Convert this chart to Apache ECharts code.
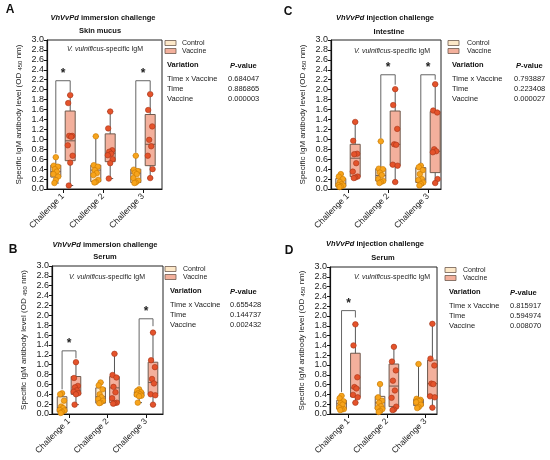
<!DOCTYPE html>
<html>
<head>
<meta charset="utf-8">
<script src="https://cdn.jsdelivr.net/npm/echarts@6/dist/echarts.min.js"></script>
<style>
  html, body { margin: 0; padding: 0; background: #fff; }
  #chart { width: 550px; height: 460px; }
</style>
</head>
<body>
<div id="chart"></div>
<script>
var categories = ['Challenge 1', 'Challenge 2', 'Challenge 3'];
var variations = ['Time x Vaccine', 'Time', 'Vaccine'];

// box stats per challenge: [min, q1, median, q3, max]
// A - immersion, skin mucus
var skinCtrlBox = [[0.12, 0.24, 0.35, 0.48, 0.64], [0.13, 0.15, 0.38, 0.48, 1.06], [0.12, 0.13, 0.32, 0.40, 0.67]];
var skinVacBox = [[0.07, 0.57, 0.97, 1.57, 1.89], [0.21, 0.55, 0.72, 1.11, 1.56], [0.22, 0.47, 0.90, 1.50, 1.91]];
var skinCtrlPts = [[0.64, 0.47, 0.45, 0.40, 0.35, 0.30, 0.25, 0.18, 0.12], [1.06, 0.48, 0.45, 0.38, 0.32, 0.28, 0.18, 0.14, 0.13], [0.67, 0.39, 0.36, 0.33, 0.30, 0.22, 0.17, 0.13, 0.12]];
var skinVacPts = [[1.89, 1.73, 1.07, 1.07, 1.05, 0.88, 0.67, 0.53, 0.07], [1.56, 1.22, 0.78, 0.75, 0.71, 0.68, 0.60, 0.52, 0.21], [1.91, 1.59, 1.26, 0.99, 0.86, 0.67, 0.40, 0.22]];
var skinPvals = ['0.684047', '0.886865', '0.000003'];
var skinSig = [[1, 2.18, 0.72, 1.95], [3, 2.18, 0.73, 1.96]]; // [challenge, top, left leg end, right leg end]

// B - immersion, serum
var serImmCtrlBox = [[0.02, 0.04, 0.13, 0.35, 0.42], [0.22, 0.22, 0.35, 0.53, 0.64], [0.23, 0.36, 0.40, 0.45, 0.50]];
var serImmVacBox = [[0.19, 0.40, 0.47, 0.76, 1.05], [0.21, 0.23, 0.53, 0.76, 1.22], [0.19, 0.40, 0.64, 1.05, 1.65]];
var serImmCtrlPts = [[0.42, 0.40, 0.27, 0.15, 0.12, 0.08, 0.07, 0.04, 0.02], [0.64, 0.58, 0.50, 0.40, 0.34, 0.30, 0.27, 0.23, 0.22], [0.50, 0.47, 0.44, 0.42, 0.40, 0.39, 0.37, 0.36, 0.23]];
var serImmVacPts = [[1.05, 0.73, 0.57, 0.54, 0.48, 0.45, 0.42, 0.40, 0.19], [1.22, 0.79, 0.74, 0.55, 0.44, 0.32, 0.23, 0.22, 0.21], [1.65, 1.09, 0.95, 0.71, 0.62, 0.40, 0.38, 0.19]];
var serImmPvals = ['0.655428', '0.144737', '0.002432'];
var serImmSig = [[1, 1.28, 0.50, 1.13], [3, 1.93, 0.58, 1.78]];

// C - injection, intestine
var intCtrlBox = [[0.04, 0.05, 0.11, 0.21, 0.30], [0.12, 0.16, 0.27, 0.41, 0.96], [0.07, 0.13, 0.20, 0.43, 0.47]];
var intVacBox = [[0.22, 0.25, 0.62, 0.90, 1.35], [0.14, 0.47, 0.90, 1.57, 2.01], [0.12, 0.33, 0.76, 1.56, 2.11]];
var intCtrlPts = [[0.30, 0.25, 0.20, 0.14, 0.10, 0.08, 0.07, 0.05, 0.04], [0.96, 0.41, 0.40, 0.33, 0.28, 0.20, 0.16, 0.14, 0.12], [0.47, 0.44, 0.38, 0.30, 0.20, 0.18, 0.13, 0.10, 0.07]];
var intVacPts = [[1.35, 0.97, 0.71, 0.70, 0.52, 0.35, 0.25, 0.23, 0.22], [2.01, 1.69, 1.21, 0.90, 0.89, 0.49, 0.47, 0.14], [2.11, 1.58, 1.54, 0.80, 0.76, 0.74, 0.20, 0.12]];
var intPvals = ['0.793887', '0.223408', '0.000027'];
var intSig = [[2, 2.30, 1.02, 2.10], [3, 2.30, 0.52, 2.20]];

// D - injection, serum
var serInjCtrlBox = [[0.08, 0.10, 0.21, 0.28, 0.37], [0.04, 0.10, 0.23, 0.36, 0.61], [0.12, 0.17, 0.24, 0.30, 1.02]];
var serInjVacBox = [[0.23, 0.35, 0.53, 1.24, 1.83], [0.08, 0.15, 0.57, 1.02, 1.37], [0.13, 0.35, 0.62, 1.10, 1.84]];
var serInjCtrlPts = [[0.37, 0.32, 0.26, 0.22, 0.19, 0.13, 0.10, 0.09, 0.08], [0.61, 0.34, 0.27, 0.23, 0.16, 0.12, 0.10, 0.06, 0.04], [1.02, 0.31, 0.29, 0.27, 0.26, 0.24, 0.19, 0.14, 0.12]];
var serInjVacPts = [[1.83, 1.40, 0.75, 0.55, 0.52, 0.39, 0.34, 0.23], [1.37, 1.07, 0.89, 0.68, 0.48, 0.33, 0.15, 0.09, 0.08], [1.84, 1.13, 0.99, 0.62, 0.61, 0.36, 0.34, 0.13]];
var serInjPvals = ['0.815917', '0.594974', '0.008070'];
var serInjSig = [[1, 2.11, 0.45, 1.97]];

var FONT = '"Liberation Sans", Arial, sans-serif';
var ctrlFill = '#fde8c8', vacFill = '#f3b09c';
var ctrlDot = '#f7a41c', vacDot = '#e4532b';
var boxEdge = '#6e5a4e';
var OFF = 0.18, BOXW = 0.25;
var jitter = [0, -0.05, 0.05, -0.025, 0.025, -0.06, 0.06, 0, -0.035];

var panels = [
  { letter: 'A', route: 'immersion', tissue: 'Skin mucus', cb: skinCtrlBox, vb: skinVacBox, cp: skinCtrlPts, vp: skinVacPts, pv: skinPvals, sig: skinSig,
    g: { left: 47, top: 40, width: 115, height: 149, min: 0.6, max: 3.475 },
    letterPos: [10, 10], title: [103, 18], sub: [100, 31], inner: [105, 49], leg: [165, 43, 182], tab: [167, 65, 230, 228] },
  { letter: 'C', route: 'injection', tissue: 'Intestine', cb: intCtrlBox, vb: intVacBox, cp: intCtrlPts, vp: intVacPts, pv: intPvals, sig: intSig,
    g: { left: 331, top: 40, width: 110, height: 149, min: 0.575, max: 3.325 },
    letterPos: [288, 12], title: [385, 18], sub: [389, 32], inner: [392, 51], leg: [448, 43, 467], tab: [452, 65, 516, 514] },
  { letter: 'B', route: 'immersion', tissue: 'Serum', cb: serImmCtrlBox, vb: serImmVacBox, cp: serImmCtrlPts, vp: serImmVacPts, pv: serImmPvals, sig: serImmSig,
    g: { left: 52, top: 266, width: 111, height: 148, min: 0.558, max: 3.44 },
    letterPos: [13, 250], title: [105, 245], sub: [105, 257], inner: [107, 277], leg: [165, 269, 183], tab: [170, 291, 230, 230] },
  { letter: 'D', route: 'injection', tissue: 'Serum', cb: serInjCtrlBox, vb: serInjVacBox, cp: serInjCtrlPts, vp: serInjVacPts, pv: serInjPvals, sig: serInjSig,
    g: { left: 330, top: 267, width: 107, height: 147, min: 0.52, max: 3.30 },
    letterPos: [289, 251], title: [375, 244], sub: [383, 258], inner: [392, 277], leg: [445, 270, 463], tab: [449, 292, 510, 510] }
];

function boxRenderer(fill) {
  return function (params, api) {
    var x = api.value(0);
    var lo = api.coord([x, api.value(1)]), q1 = api.coord([x, api.value(2)]);
    var md = api.coord([x, api.value(3)]), q3 = api.coord([x, api.value(4)]);
    var hi = api.coord([x, api.value(5)]);
    var xl = api.coord([x - BOXW / 2, 0])[0], xr = api.coord([x + BOXW / 2, 0])[0];
    var w = xr - xl;
    var cx = lo[0], cap = w * 0.3;
    return { type: 'group', children: [
      { type: 'line', shape: { x1: cx, y1: hi[1], x2: cx, y2: lo[1] }, style: { stroke: '#555', lineWidth: 1 } },
      { type: 'line', shape: { x1: cx - cap, y1: hi[1], x2: cx + cap, y2: hi[1] }, style: { stroke: '#555', lineWidth: 1 } },
      { type: 'line', shape: { x1: cx - cap, y1: lo[1], x2: cx + cap, y2: lo[1] }, style: { stroke: '#555', lineWidth: 1 } },
      { type: 'rect', shape: { x: xl, y: q3[1], width: w, height: q1[1] - q3[1] }, style: { fill: fill, stroke: boxEdge, lineWidth: 1 } },
      { type: 'line', shape: { x1: xl, y1: md[1], x2: xr, y2: md[1] }, style: { stroke: boxEdge, lineWidth: 1 } }
    ] };
  };
}

function sigRenderer(params, api) {
  var xl = api.value(0), xr = api.value(1);
  var a = api.coord([xl, api.value(3)]), b = api.coord([xl, api.value(2)]);
  var c = api.coord([xr, api.value(2)]), d = api.coord([xr, api.value(4)]);
  return { type: 'group', children: [
    { type: 'polyline', shape: { points: [a, b, c, d] }, style: { stroke: '#666', lineWidth: 1, fill: null } },
    { type: 'text', x: (b[0] + c[0]) / 2, y: b[1] - 1, style: { text: '*', fontSize: 12, fontWeight: 'bold', fill: '#222', align: 'center', verticalAlign: 'bottom', fontFamily: FONT } }
  ] };
}

function boxData(stats, off) {
  return stats.map(function (s, i) { return [i + 1 + off, s[0], s[1], s[2], s[3], s[4]]; });
}
function ptData(pts, off) {
  var out = [];
  pts.forEach(function (list, i) {
    list.forEach(function (v, j) { out.push([i + 1 + off + jitter[j % jitter.length], v]); });
  });
  return out;
}

var grids = [], xAxes = [], yAxes = [], series = [], graphics = [];

panels.forEach(function (p, k) {
  grids.push({ left: p.g.left, top: p.g.top, width: p.g.width, height: p.g.height, show: true, borderColor: '#222', borderWidth: 1, backgroundColor: 'transparent', outerBoundsMode: 'none' });
  xAxes.push({
    gridIndex: k, type: 'value', min: p.g.min, max: p.g.max, splitLine: { show: false },
    axisLine: { lineStyle: { color: '#111', width: 1.2 } },
    axisTick: { customValues: [1, 2, 3], length: 4, lineStyle: { color: '#111' } },
    axisLabel: { customValues: [1, 2, 3], rotate: 45, fontSize: 8.5, color: '#222', fontFamily: FONT, margin: 6,
      formatter: function (v) { return categories[Math.round(v) - 1]; } }
  });
  yAxes.push({
    gridIndex: k, type: 'value', min: 0, max: 3, interval: 0.2, splitLine: { show: false },
    axisLine: { show: true, lineStyle: { color: '#111', width: 1.2 } },
    axisTick: { show: true, length: 3, lineStyle: { color: '#111' } },
    axisLabel: { fontSize: 9, color: '#222', fontFamily: FONT, margin: 3, formatter: function (v) { return v.toFixed(1); } },
    name: 'Specific IgM antibody level (OD {s|450} nm)', nameLocation: 'middle', nameGap: 24, nameRotate: 90,
    nameTextStyle: { fontSize: 8, color: '#222', fontFamily: FONT, rich: { s: { fontSize: 6, verticalAlign: 'bottom', fontFamily: FONT, color: '#222' } } }
  });
  series.push({ type: 'custom', xAxisIndex: k, yAxisIndex: k, renderItem: boxRenderer(ctrlFill), data: boxData(p.cb, -OFF), encode: { x: 0, y: [1, 2, 3, 4, 5] }, z: 2 });
  series.push({ type: 'custom', xAxisIndex: k, yAxisIndex: k, renderItem: boxRenderer(vacFill), data: boxData(p.vb, OFF), encode: { x: 0, y: [1, 2, 3, 4, 5] }, z: 2 });
  series.push({ type: 'scatter', xAxisIndex: k, yAxisIndex: k, data: ptData(p.cp, -OFF), symbolSize: 5.5, itemStyle: { color: ctrlDot, borderColor: '#c97800', borderWidth: 0.6, opacity: 1 }, z: 3 });
  series.push({ type: 'scatter', xAxisIndex: k, yAxisIndex: k, data: ptData(p.vp, OFF), symbolSize: 5.5, itemStyle: { color: vacDot, borderColor: '#a83418', borderWidth: 0.6, opacity: 1 }, z: 3 });
  series.push({ type: 'custom', xAxisIndex: k, yAxisIndex: k, renderItem: sigRenderer,
    data: p.sig.map(function (s) { return [s[0] - OFF, s[0] + OFF, s[1], s[2], s[3]]; }), encode: { x: [0, 1], y: [2, 3, 4] }, z: 4 });

  graphics.push({ type: 'text', x: p.letterPos[0], y: p.letterPos[1], style: { text: p.letter, fontSize: 12, fontWeight: 'bold', fill: '#111', align: 'center', verticalAlign: 'middle', fontFamily: FONT } });
  graphics.push({ type: 'text', x: p.title[0], y: p.title[1], style: {
    text: '{i|VhVvPd} ' + p.route + ' challenge', align: 'center', verticalAlign: 'middle', fontSize: 7.5, fontWeight: 'bold', fill: '#111', fontFamily: FONT,
    rich: { i: { fontStyle: 'italic', fontWeight: 'bold', fontSize: 7.5, fill: '#111', fontFamily: FONT } } } });
  graphics.push({ type: 'text', x: p.sub[0], y: p.sub[1], style: { text: p.tissue, align: 'center', verticalAlign: 'middle', fontSize: 7.5, fontWeight: 'bold', fill: '#111', fontFamily: FONT } });
  graphics.push({ type: 'text', x: p.inner[0], y: p.inner[1], style: {
    text: '{i|V. vulnificus}-specific IgM', align: 'center', verticalAlign: 'middle', fontSize: 7, fill: '#222', fontFamily: FONT,
    rich: { i: { fontStyle: 'italic', fontSize: 7, fill: '#222', fontFamily: FONT } } } });
  // legend
  [[ctrlFill, 'Control'], [vacFill, 'Vaccine']].forEach(function (it, j) {
    var y = p.leg[1] + j * 8;
    graphics.push({ type: 'rect', shape: { x: p.leg[0], y: y - 2.5, width: 11, height: 5 }, style: { fill: it[0], stroke: boxEdge, lineWidth: 0.8 } });
    graphics.push({ type: 'text', x: p.leg[2], y: y, style: { text: it[1], fontSize: 7, fill: '#222', verticalAlign: 'middle', fontFamily: FONT } });
  });
  // table
  graphics.push({ type: 'text', x: p.tab[0], y: p.tab[1], style: { text: 'Variation', fontSize: 7.5, fontWeight: 'bold', fill: '#111', verticalAlign: 'middle', fontFamily: FONT } });
  graphics.push({ type: 'text', x: p.tab[2], y: p.tab[1] + 1, style: {
    text: '{i|P}-value', fontSize: 7.5, fontWeight: 'bold', fill: '#111', verticalAlign: 'middle', fontFamily: FONT,
    rich: { i: { fontStyle: 'italic', fontWeight: 'bold', fontSize: 7.5, fill: '#111', fontFamily: FONT } } } });
  variations.forEach(function (v, j) {
    graphics.push({ type: 'text', x: p.tab[0], y: p.tab[1] + 14 + j * 10, style: { text: v, fontSize: 7.5, fill: '#222', verticalAlign: 'middle', fontFamily: FONT } });
    graphics.push({ type: 'text', x: p.tab[3], y: p.tab[1] + 14 + j * 10, style: { text: p.pv[j], fontSize: 7.5, fill: '#222', verticalAlign: 'middle', fontFamily: FONT } });
  });
});

var chart = echarts.init(document.getElementById('chart'), null, { renderer: 'canvas' });
chart.setOption({
  backgroundColor: '#fff',
  animation: false,
  grid: grids,
  xAxis: xAxes,
  yAxis: yAxes,
  series: series,
  graphic: graphics
});
</script>
</body>
</html>
